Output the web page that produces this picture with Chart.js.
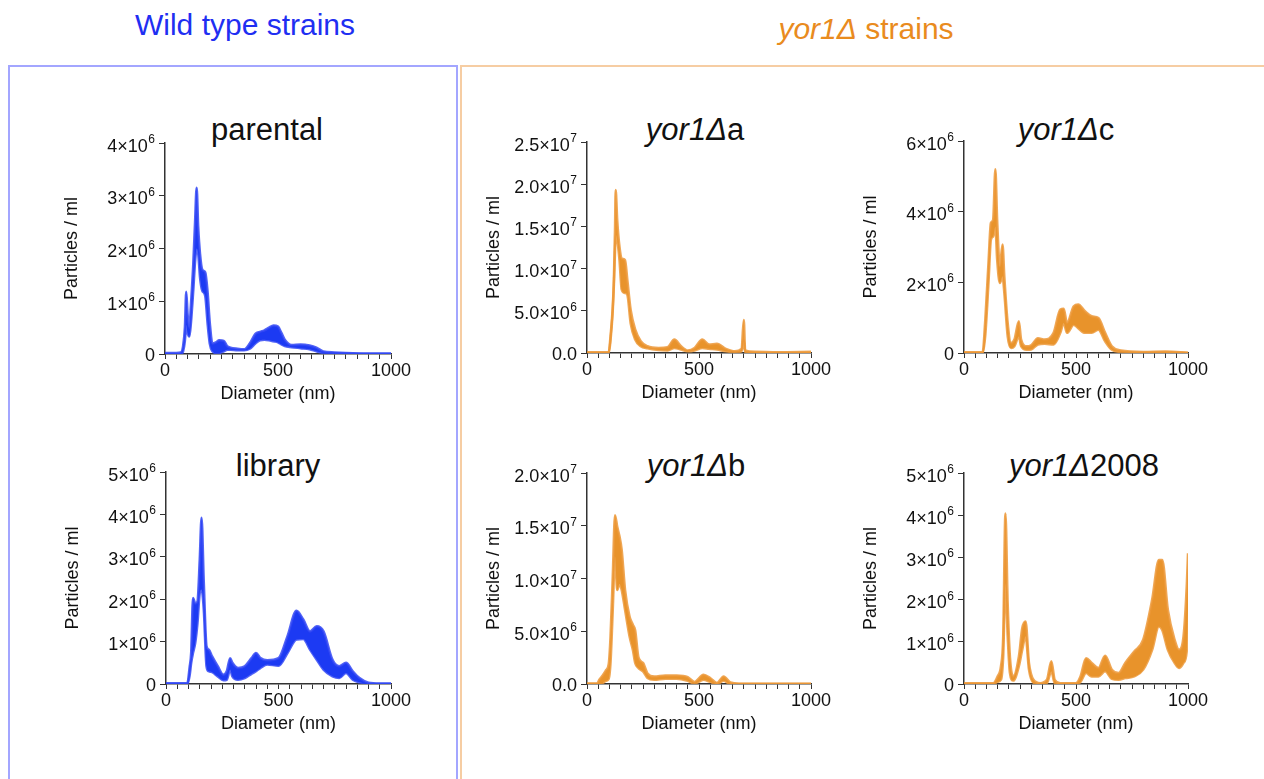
<!DOCTYPE html>
<html>
<head>
<meta charset="utf-8">
<script src="https://cdn.jsdelivr.net/npm/chart.js@4.4.0/dist/chart.umd.min.js"></script>
<style>
body { margin: 0; background: #fff; font-family: "Liberation Sans", Arial, sans-serif; }
#fig { position: relative; width: 1264px; height: 779px; overflow: hidden; background: #fff; }
.box { position: absolute; top: 65px; height: 760px; box-sizing: border-box; }
#wtBox { left: 8px; width: 450px; border: 2px solid #a3a6ff; }
#yorBox { left: 460px; width: 830px; border: 2px solid #f6cda3; }
.head { position: absolute; font-size: 30px; line-height: 30px; transform: translateX(-50%); white-space: nowrap; }
.ttl { position: absolute; font-size: 31px; line-height: 31px; color: #111; transform: translateX(-50%); white-space: nowrap; }
canvas { position: absolute; }
</style>
</head>
<body>
<div id="fig">
  <div class="box" id="wtBox"></div>
  <div class="box" id="yorBox"></div>
  <div class="head" style="left:245px; top:10px; color:#1f2ff2;">Wild type strains</div>
  <div class="head" style="left:866px; top:14px; color:#e98b1e;"><i>yor1Δ</i> strains</div>

  <div class="ttl" style="left:267px; top:114px;">parental</div>
  <div class="ttl" style="left:278px; top:450px;">library</div>
  <div class="ttl" style="left:695px; top:114px;"><i>yor1Δ</i>a</div>
  <div class="ttl" style="left:696px; top:450px;"><i>yor1Δ</i>b</div>
  <div class="ttl" style="left:1066px; top:114px;"><i>yor1Δ</i>c</div>
  <div class="ttl" style="left:1084px; top:450px;"><i>yor1Δ</i>2008</div>

  <canvas id="cParental"></canvas>
  <canvas id="cLibrary"></canvas>
  <canvas id="cA"></canvas>
  <canvas id="cB"></canvas>
  <canvas id="cC"></canvas>
  <canvas id="c2008"></canvas>
</div>
<script>
// values are particles/ml in units of 1e6, upper and lower edge of the band

var parentalD  = [0, 25, 50, 70, 80, 88, 94, 100, 108, 115, 125, 133, 140, 147, 155, 165, 178, 188, 198, 210, 225, 240, 260, 275, 290, 320, 350, 375, 400, 420, 440, 460, 480, 500, 515, 530, 560, 600, 640, 670, 700, 750, 800, 900, 1000];
var parentalHi = [0.02, 0.02, 0.02, 0.03, 0.15, 0.5, 1.18, 0.75, 0.5, 0.95, 1.7, 2.5, 3.15, 2.4, 1.9, 1.6, 1.55, 1.2, 0.6, 0.2, 0.22, 0.26, 0.25, 0.15, 0.12, 0.1, 0.09, 0.2, 0.38, 0.42, 0.45, 0.5, 0.54, 0.52, 0.4, 0.27, 0.17, 0.18, 0.16, 0.12, 0.05, 0.03, 0.02, 0.01, 0.01];
var parentalLo = [0, 0, 0, 0, 0.05, 0.25, 0.55, 0.4, 0.33, 0.6, 1.2, 1.75, 2.0, 1.9, 1.45, 1.2, 1.1, 0.6, 0.2, 0.05, 0.02, 0.02, 0.05, 0.08, 0.08, 0.07, 0.07, 0.1, 0.2, 0.26, 0.27, 0.26, 0.24, 0.22, 0.18, 0.15, 0.13, 0.11, 0.09, 0.05, 0.02, 0.01, 0.01, 0, 0];
var parentalTicks = ['0', '1×10^6', '2×10^6', '3×10^6', '4×10^6'];

var libraryD  = [0, 50, 95, 105, 112, 120, 130, 140, 150, 158, 168, 180, 190, 205, 230, 255, 270, 285, 295, 320, 350, 380, 400, 420, 450, 500, 540, 580, 610, 640, 670, 700, 740, 770, 800, 830, 860, 900, 950, 1000];
var libraryHi = [0.02, 0.02, 0.02, 0.4, 0.75, 2.03, 1.9, 1.95, 2.94, 3.92, 2.39, 0.89, 0.81, 0.65, 0.42, 0.22, 0.3, 0.61, 0.5, 0.38, 0.42, 0.61, 0.73, 0.61, 0.56, 0.61, 1.13, 1.73, 1.52, 1.24, 1.36, 1.24, 0.57, 0.42, 0.5, 0.3, 0.14, 0.03, 0.01, 0.01];
var libraryLo = [0, 0, 0, 0.2, 0.5, 0.73, 0.97, 1.44, 2.15, 2.23, 1.75, 0.42, 0.3, 0.28, 0.18, 0.09, 0.1, 0.34, 0.18, 0.1, 0.14, 0.24, 0.3, 0.38, 0.46, 0.43, 0.73, 1.05, 1.06, 0.81, 0.57, 0.34, 0.18, 0.14, 0.26, 0.1, 0.04, 0, 0, 0];
var libraryTicks = ['0', '1×10^6', '2×10^6', '3×10^6', '4×10^6', '5×10^6'];

var aD  = [0, 50, 97, 105, 115, 120, 125, 128, 135, 145, 155, 170, 180, 195, 215, 240, 270, 320, 360, 390, 420, 450, 480, 515, 545, 580, 620, 660, 690, 700, 706, 750, 850, 1000];
var aHi = [0.1, 0.1, 0.1, 2.0, 5.5, 8.7, 14.6, 19.3, 15.7, 12.6, 11.2, 11.0, 8.7, 5.1, 2.8, 1.4, 0.8, 0.6, 0.7, 1.6, 0.8, 0.3, 0.6, 1.6, 1.0, 1.1, 0.5, 0.2, 0.5, 3.9, 0.3, 0.15, 0.1, 0.15];
var aLo = [0, 0, 0, 1.5, 5.0, 8.0, 12.0, 14.0, 13.4, 11.0, 7.5, 7.1, 6.9, 3.5, 1.6, 0.8, 0.55, 0.35, 0.3, 0.6, 0.4, 0.2, 0.3, 0.6, 0.5, 0.4, 0.2, 0.1, 0.2, 1.5, 0.1, 0, 0, 0];
var aTicks = ['0.0', '5.0×10^6', '1.0×10^7', '1.5×10^7', '2.0×10^7', '2.5×10^7'];

var bD  = [0, 45, 55, 70, 85, 97, 105, 115, 125, 135, 145, 155, 170, 190, 205, 215, 230, 250, 270, 300, 350, 400, 450, 480, 520, 550, 580, 610, 640, 680, 800, 1000];
var bHi = [0.05, 0.05, 0.4, 0.8, 1.3, 1.9, 4.5, 10.2, 16.0, 14.9, 14.0, 12.7, 8.9, 6.4, 5.6, 5.1, 2.5, 2.0, 1.0, 0.7, 0.8, 0.8, 0.65, 0.2, 0.88, 0.57, 0.1, 0.72, 0.15, 0.03, 0.02, 0.02];
var bLo = [0, 0, 0, 0.1, 0.3, 0.5, 2.0, 7.0, 12.1, 8.9, 9.5, 8.9, 7.0, 4.5, 3.2, 2.0, 1.5, 1.2, 0.57, 0.4, 0.5, 0.5, 0.3, 0.05, 0.4, 0.2, 0, 0.3, 0, 0, 0, 0];
var bTicks = ['0.0', '5.0×10^6', '1.0×10^7', '1.5×10^7', '2.0×10^7'];

var cD  = [0, 50, 83, 95, 110, 120, 130, 140, 148, 160, 172, 180, 195, 210, 225, 245, 255, 280, 300, 330, 360, 400, 430, 445, 460, 490, 510, 540, 570, 600, 630, 660, 700, 800, 900, 1000];
var cHi = [0.02, 0.02, 0.02, 0.94, 2.64, 3.68, 3.77, 5.2, 3.77, 2.45, 3.07, 2.17, 0.85, 0.28, 0.38, 0.9, 0.38, 0.19, 0.22, 0.42, 0.38, 0.57, 1.23, 1.25, 0.85, 1.32, 1.37, 1.18, 1.04, 0.99, 0.57, 0.19, 0.07, 0.03, 0.04, 0.01];
var cLo = [0, 0, 0, 0.5, 2.07, 3.2, 3.3, 3.58, 2.64, 1.98, 2.17, 1.7, 0.47, 0.14, 0.19, 0.47, 0.19, 0.09, 0.1, 0.24, 0.26, 0.24, 0.57, 0.85, 0.57, 0.8, 0.7, 0.57, 0.57, 0.66, 0.33, 0.09, 0.03, 0.01, 0.01, 0];
var cTicks = ['0', '2×10^6', '4×10^6', '6×10^6'];

var s2008D  = [0, 100, 131, 150, 165, 175, 185, 195, 205, 220, 245, 260, 275, 290, 310, 340, 370, 390, 405, 430, 500, 520, 545, 570, 600, 630, 660, 690, 720, 760, 800, 840, 870, 885, 910, 940, 960, 980, 995, 1000];
var s2008Hi = [0.02, 0.02, 0.02, 0.18, 0.42, 1.13, 4.04, 1.91, 0.65, 0.18, 0.65, 1.32, 1.48, 0.5, 0.1, 0.02, 0.1, 0.54, 0.1, 0.02, 0.02, 0.18, 0.61, 0.5, 0.38, 0.67, 0.34, 0.26, 0.5, 0.77, 1.05, 2.0, 2.94, 2.94, 1.76, 1.05, 0.81, 1.13, 2.39, 3.1];
var s2008Lo = [0, 0, 0, 0.05, 0.1, 0.65, 2.39, 1.13, 0.26, 0.08, 0.42, 0.81, 1.13, 0.34, 0.03, 0, 0.02, 0.3, 0.02, 0, 0, 0.05, 0.26, 0.18, 0.18, 0.3, 0.12, 0.1, 0.14, 0.18, 0.34, 0.81, 1.36, 1.28, 0.81, 0.5, 0.38, 0.5, 0.81, 1.76];
var s2008Ticks = ['0', '1×10^6', '2×10^6', '3×10^6', '4×10^6', '5×10^6'];

var BLUE = '#1c3af3', BLUE_EDGE = 'rgba(50,72,245,0.85)';
var ORANGE = '#e8932b', ORANGE_EDGE = 'rgba(236,152,55,0.85)';
var FONT = '"Liberation Sans", Arial, sans-serif';

function pts(xs, ys) {
  var out = [];
  for (var i = 0; i < xs.length; i++) out.push({ x: xs[i], y: ys[i] });
  return out;
}

function makePanel(id, box, xs, hi, lo, yMax, yStep, yLabels, color, edge) {
  var padTop = 15, padRight = 30, yW = 110, xH = 55;
  var cv = document.getElementById(id);
  cv.width = box.R - box.L + yW + padRight;
  cv.height = box.B - box.T + padTop + xH;
  cv.style.left = (box.L - yW) + 'px';
  cv.style.top = (box.T - padTop) + 'px';

  // y tick labels with raised exponent
  var yTickPlugin = {
    id: 'yTicks',
    afterDraw: function (chart) {
      var ctx = chart.ctx, sc = chart.scales.y;
      ctx.save();
      ctx.fillStyle = '#111';
      ctx.textAlign = 'right';
      ctx.textBaseline = 'alphabetic';
      sc.ticks.forEach(function (t, i) {
        var lab = yLabels[i];
        if (!lab) return;
        var y = sc.getPixelForValue(t.value);
        var xr = sc.right - 10;
        var parts = lab.split('^');
        if (parts.length > 1) {
          ctx.font = '12px ' + FONT;
          ctx.fillText(parts[1], xr, y + 0);
          var ew = ctx.measureText(parts[1]).width;
          ctx.font = '18px ' + FONT;
          ctx.fillText(parts[0], xr - ew - 0.5, y + 8.5);
        } else {
          ctx.font = '18px ' + FONT;
          ctx.fillText(parts[0], xr, y + 6.5);
        }
      });
      ctx.restore();
    }
  };

  new Chart(cv, {
    type: 'line',
    data: {
      datasets: [{
        data: pts(xs, hi),
        borderColor: edge,
        backgroundColor: color,
        borderWidth: 2.5,
        pointRadius: 0,
        fill: '+1',
        cubicInterpolationMode: 'monotone'
      }, {
        data: pts(xs, lo),
        borderColor: edge,
        borderWidth: 2.5,
        pointRadius: 0,
        fill: false,
        cubicInterpolationMode: 'monotone'
      }]
    },
    options: {
      responsive: false,
      animation: false,
      devicePixelRatio: 1,
      layout: { padding: { top: padTop, right: padRight, left: 0, bottom: 0 } },
      plugins: { legend: { display: false }, tooltip: { enabled: false } },
      scales: {
        x: {
          type: 'linear', min: 0, max: 1000,
          afterFit: function (s) { s.height = xH; },
          ticks: {
            stepSize: 50, autoSkip: false, maxRotation: 0, padding: 1,
            color: '#111', font: { size: 18, family: FONT },
            callback: function (v) { return v % 500 === 0 ? String(v) : ''; }
          },
          grid: { drawOnChartArea: false, color: '#333', tickLength: 5, lineWidth: 1 },
          border: { color: '#333', width: 1.5 },
          title: { display: true, text: 'Diameter (nm)', color: '#111', font: { size: 18, family: FONT }, padding: { top: 0, bottom: 4 } }
        },
        y: {
          min: 0, max: yMax,
          afterFit: function (s) { s.width = yW; },
          ticks: { stepSize: yStep, display: false },
          grid: { drawOnChartArea: false, color: '#333', tickLength: 6, lineWidth: 1 },
          border: { color: '#333', width: 1.5 },
          title: { display: true, text: 'Particles / ml', color: '#111', font: { size: 18, family: FONT }, padding: { top: 6, bottom: 0 } }
        }
      }
    },
    plugins: [yTickPlugin]
  });
}

makePanel('cParental', { L: 165, R: 391, T: 143, B: 354 }, parentalD, parentalHi, parentalLo, 4, 1, parentalTicks, BLUE, BLUE_EDGE);
makePanel('cLibrary', { L: 166, R: 391, T: 472, B: 684 }, libraryD, libraryHi, libraryLo, 5, 1, libraryTicks, BLUE, BLUE_EDGE);
makePanel('cA', { L: 587, R: 811, T: 142, B: 353 }, aD, aHi, aLo, 25, 5, aTicks, ORANGE, ORANGE_EDGE);
makePanel('cB', { L: 587, R: 811, T: 473, B: 684 }, bD, bHi, bLo, 20, 5, bTicks, ORANGE, ORANGE_EDGE);
makePanel('cC', { L: 964, R: 1188, T: 141, B: 353 }, cD, cHi, cLo, 6, 2, cTicks, ORANGE, ORANGE_EDGE);
makePanel('c2008', { L: 964, R: 1188, T: 473, B: 684 }, s2008D, s2008Hi, s2008Lo, 5, 1, s2008Ticks, ORANGE, ORANGE_EDGE);
</script>
</body>
</html>
